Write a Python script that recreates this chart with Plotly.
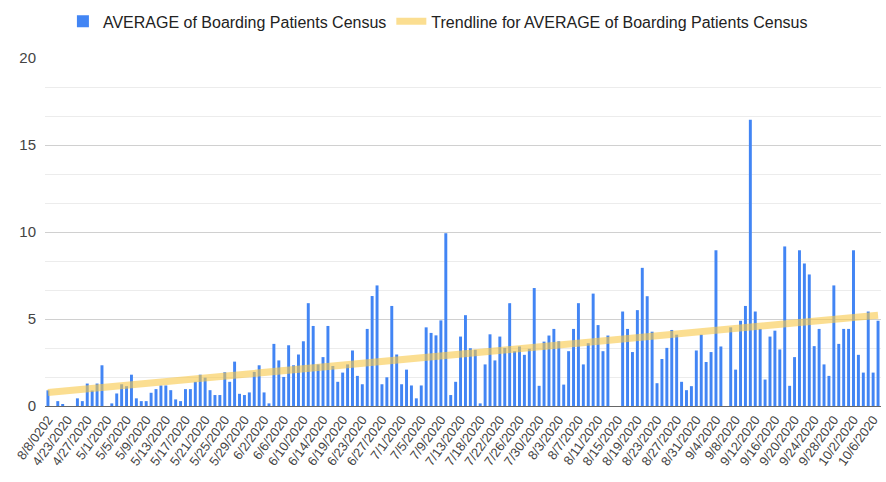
import datetime as dt
import numpy as np
import plotly.graph_objects as go

# ---- data ----
first_category = "8/8/0202"
start_date = dt.date(2020, 4, 20)
end_date = dt.date(2020, 10, 7)
missing_dates = [dt.date(2020, 6, 16), dt.date(2020, 7, 15)]

values = [
    0.9, 0, 0.28, 0.1, 0, 0, 0.44, 0.28, 1.29, 0.89,
    1.29, 2.34, 0, 0.15, 0.72, 1.25, 1.14, 1.8, 0.44, 0.28,
    0.28, 0.76, 0.97, 1.18, 1.18, 0.91, 0.38, 0.28, 0.97, 0.97,
    1.39, 1.8, 1.63, 0.91, 0.63, 0.63, 1.94, 1.39, 2.55, 0.70,
    0.63, 0.78, 1.96, 2.34, 0.78, 0.15, 3.57, 2.62, 1.67, 3.49,
    2.34, 2.96, 3.72, 5.91, 4.6, 2.39, 2.81, 4.6, 2.3, 1.39,
    1.92, 2.39, 3.19, 1.73, 1.25, 4.43, 6.32, 6.93, 1.25, 1.65,
    5.75, 2.96, 1.25, 2.09, 1.18, 0.44, 1.18, 4.52, 4.2, 4.06,
    4.92, 9.93, 0.63, 1.39, 3.99, 5.22, 3.32, 3.23, 0.15, 2.39,
    4.12, 2.62, 3.99, 3.34, 5.91, 3.15, 3.42, 2.94, 3.29, 6.78,
    1.16, 3.7, 4.05, 4.43, 3.72, 1.23, 3.15, 4.43, 5.91, 2.39,
    3.61, 6.46, 4.65, 3.15, 4.05, 0, 0, 5.43, 4.43, 3.1,
    5.51, 7.94, 6.31, 4.27, 1.31, 2.7, 3.34, 4.37, 4.1, 1.39,
    0.91, 1.14, 3.19, 4.1, 2.53, 3.1, 8.95, 3.42, 0, 4.52,
    2.09, 4.9, 5.75, 16.45, 5.43, 4.43, 1.52, 3.99, 4.33, 3.25,
    9.17, 1.16, 2.81, 8.95, 8.19, 7.56, 3.44, 4.43, 2.39, 1.73,
    6.93, 3.57, 4.43, 4.43, 8.95, 2.94, 1.92, 5.43, 1.92, 4.9,
]

y_ticks = [0, 5, 10, 15, 20]

series_name = "AVERAGE of Boarding Patients Census"
trend_name = "Trendline for AVERAGE of Boarding Patients Census"

# ---- build categories ----
categories = [first_category]
d = start_date
while d <= end_date:
    if d not in missing_dates:
        categories.append(f"{d.month}/{d.day}/{d.year}")
    d += dt.timedelta(days=1)
categories = categories[:len(values)]

tick_labels = categories[::4]

# linear trendline (least squares over category index)
idx = np.arange(len(values))
slope, intercept = np.polyfit(idx, np.array(values, dtype=float), 1)
trend = intercept + slope * idx

fig = go.Figure()
fig.add_trace(go.Bar(
    x=categories, y=values, name=series_name,
    marker=dict(color="#4285F4", line=dict(width=0)),
))
fig.add_trace(go.Scatter(
    x=categories, y=trend, name=trend_name, mode="lines",
    line=dict(color="rgba(249,200,72,0.6)", width=7),
))

fig.update_layout(
    width=886, height=482,
    margin=dict(l=45, r=5, t=55, b=76),
    paper_bgcolor="white", plot_bgcolor="white",
    bargap=0.4,
    font=dict(family="Arial, Liberation Sans, sans-serif", color="#444"),
    showlegend=True,
    legend=dict(
        orientation="h", x=0.47, xanchor="center", y=1.105, yanchor="middle",
        font=dict(size=16, color="#222"), itemwidth=30,
    ),
    xaxis=dict(
        type="category",
        tickmode="array", tickvals=tick_labels, ticktext=tick_labels,
        tickangle=-54, tickfont=dict(size=13, color="#444"),
        showgrid=False, showline=True, linecolor="#666", linewidth=1,
        ticks="", range=[-0.6, len(values) - 0.4], automargin=False,
    ),
    yaxis=dict(
        range=[0, 20], tickvals=y_ticks,
        tickfont=dict(size=15, color="#444"),
        showgrid=True, gridcolor="#d0d0d0", gridwidth=1,
        zeroline=False, ticks="", ticklabelstandoff=8, automargin=False,
        minor=dict(dtick=5/3, tick0=0, showgrid=True, gridcolor="#ececec", gridwidth=1),
    ),
)

fig.write_html(
    "out.html",
    config={"displayModeBar": False},
    post_script="document.body.style.margin='0';document.body.style.overflow='hidden';",
)
